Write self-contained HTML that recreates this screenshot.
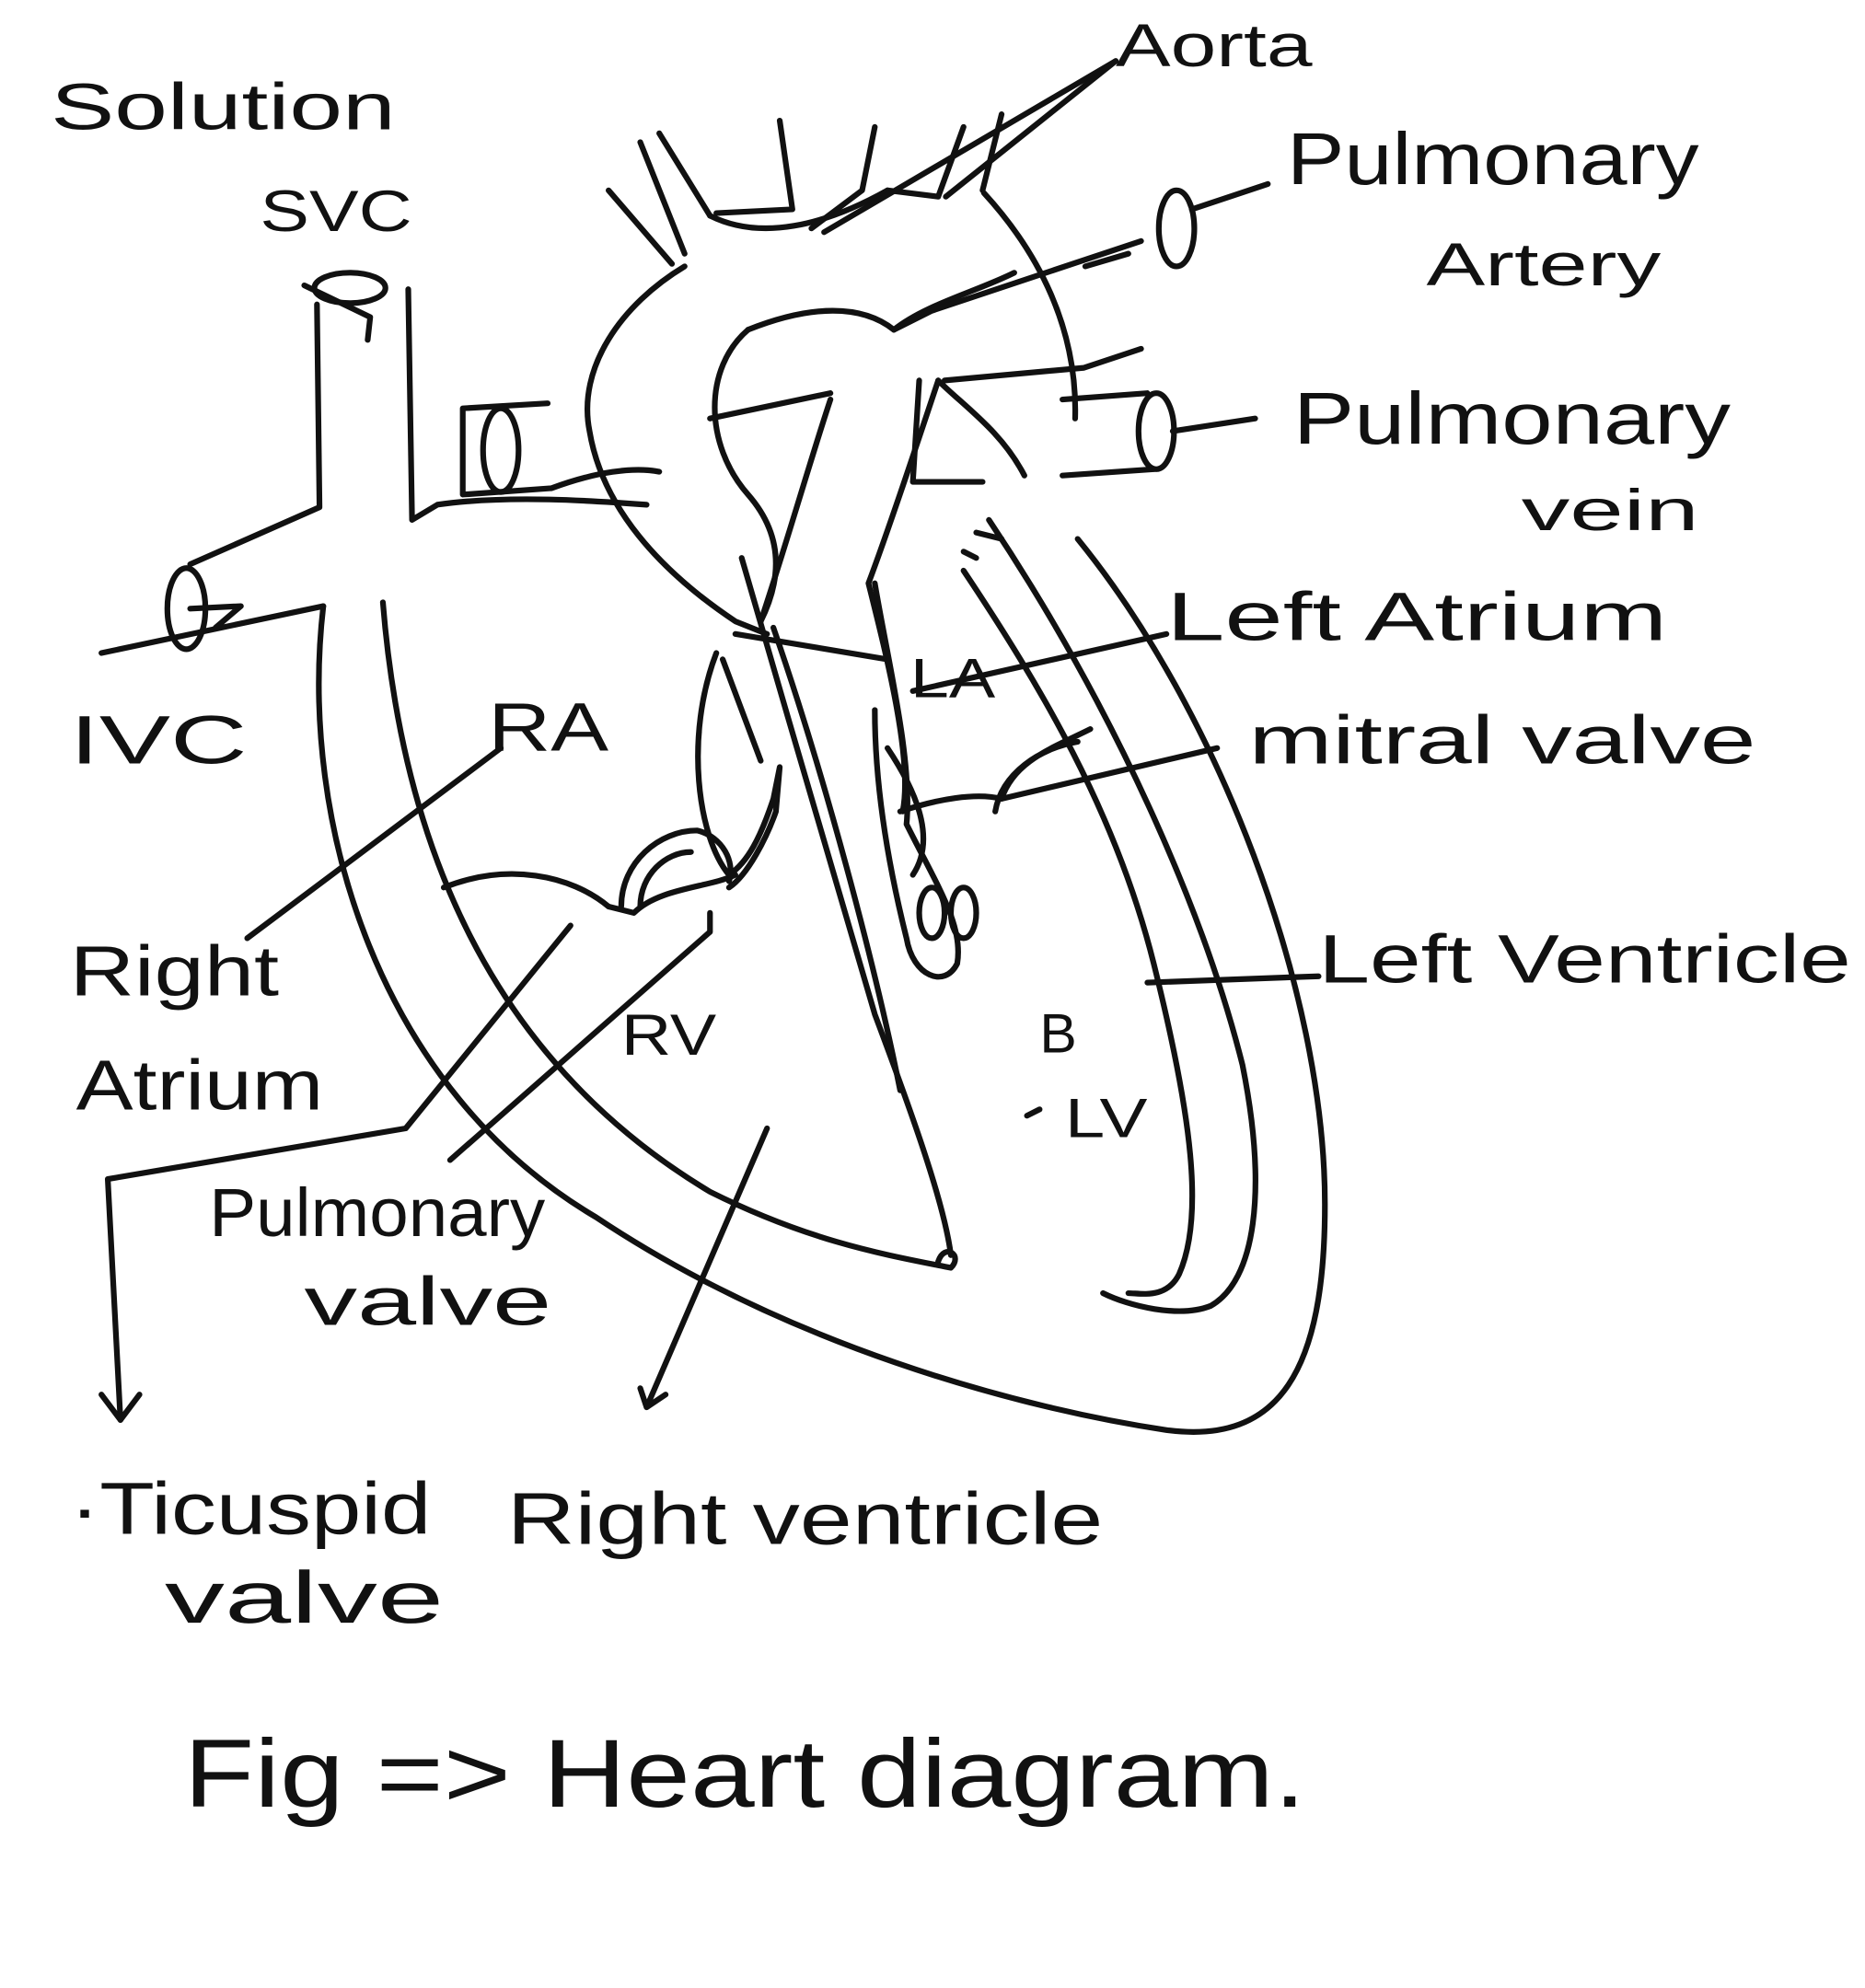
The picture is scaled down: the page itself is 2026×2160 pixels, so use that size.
<!DOCTYPE html>
<html><head><meta charset="utf-8"><style>
html,body{margin:0;padding:0;background:#fff;}
svg{display:block;}
text{font-family:"Liberation Sans",sans-serif;fill:#111;}
</style></head><body>
<svg width="2026" height="2160" viewBox="0 0 1471 1568" xmlns="http://www.w3.org/2000/svg">
<rect width="1471" height="1568" fill="#fff"/>
<g fill="none" stroke="#111" stroke-width="4.5" stroke-linecap="round" stroke-linejoin="round">
<!-- SVC -->
<ellipse cx="276" cy="227" rx="28" ry="12"/>
<path d="M250 240 L252 400 L150 445"/>
<path d="M322 228 L325 410 L345 398 C400 390 470 395 510 398"/>
<path d="M240 225 L292 250 L290 268"/>
<!-- IVC -->
<ellipse cx="147" cy="480" rx="15" ry="32"/>
<path d="M80 515 L255 478"/>
<path d="M150 480 L190 478 L170 495"/>
<ellipse cx="395" cy="355" rx="14" ry="33"/>
<path d="M365 322 L432 318 M365 322 L365 390 L435 385 M435 385 C470 372 500 368 520 372"/>
<!-- outer heart -->
<path d="M255 478 C235 650 300 860 470 960 C620 1060 800 1110 920 1128 C1010 1140 1045 1080 1045 950 C1045 780 960 560 850 425"/>
<path d="M302 475 C320 700 410 850 560 940 C640 980 700 990 750 1000 C760 990 745 980 740 995"/>
<!-- aorta arch -->
<path d="M540 210 C490 240 455 290 465 340 C475 400 520 450 580 490 L605 500"/>
<path d="M580 500 L700 520"/>
<path d="M530 208 L480 150 M540 200 L505 112 M560 170 L520 105 M565 168 L625 165 L615 95 M640 180 L680 150 L690 100 M700 150 L740 155 L760 100 M775 150 L790 90 M776 152 C820 200 850 260 848 330"/>
<path d="M560 170 C600 190 650 178 700 150"/>
<path d="M590 260 C555 290 555 350 590 390 C625 430 610 470 600 490"/>
<path d="M590 260 C640 240 680 240 705 260 C730 240 770 230 800 215"/>
<path d="M705 260 L735 245 L900 190"/>
<path d="M745 300 L855 290 L900 275"/>
<ellipse cx="928" cy="180" rx="14" ry="30"/>
<path d="M856 210 L890 200 M940 165 L1000 145"/>
<ellipse cx="912" cy="340" rx="14" ry="30"/>
<path d="M838 315 L905 310 M838 375 L910 370 M925 340 L990 330"/>
<!-- septum / ventricle -->
<path d="M600 490 C620 430 640 360 655 315"/>
<path d="M560 330 L655 310"/>
<path d="M585 440 C620 560 660 700 690 800 C720 880 745 950 750 990"/>
<path d="M610 495 C650 610 690 760 710 860"/>
<path d="M740 300 C720 360 700 420 685 460 C700 520 720 600 712 640"/>
<path d="M740 300 C760 320 790 340 808 375"/>
<path d="M725 300 L720 380 L775 380"/>
<path d="M760 435 L770 440 M770 420 L790 425"/>
<path d="M760 450 C820 540 880 640 910 760 C940 880 950 960 930 1005 C920 1025 900 1020 890 1020"/>
<path d="M780 410 C880 560 950 720 980 840 C1000 940 990 1010 955 1030 C930 1040 890 1030 870 1020"/>
<path d="M690 460 C700 520 720 600 715 650 C740 700 760 730 755 760 C745 780 720 770 715 740 C705 700 690 630 690 560"/>
<path d="M700 590 C720 620 740 660 720 690"/>
<ellipse cx="735" cy="720" rx="10" ry="20"/>
<ellipse cx="760" cy="720" rx="10" ry="20"/>
<path d="M785 640 C790 610 820 590 850 585 M790 630 C800 600 830 590 860 575"/>
<path d="M710 640 C740 630 770 625 790 630 L960 590"/>
<path d="M350 700 C400 680 450 690 480 715"/>
<path d="M490 715 C490 680 520 655 550 655 C570 660 580 680 575 695"/>
<path d="M505 715 C505 690 525 672 545 672"/>
<path d="M480 715 L500 720 C520 700 560 700 580 690"/>
<path d="M565 515 C540 580 550 660 575 690 C590 680 600 660 610 630 L615 605 L612 640 C605 660 590 690 575 700"/>
<path d="M570 520 L600 600"/>
<!-- leader lines -->
<path d="M650 183 L880 48"/>
<path d="M746 155 L880 48"/>
<path d="M720 545 L920 500"/>
<path d="M905 775 L1040 770"/>
<path d="M195 740 L395 590"/>
<path d="M355 915 L560 735 L560 720"/>
<path d="M450 730 L320 890 L85 930 L95 1120"/>
<path d="M80 1100 L95 1120 L110 1100"/>
<path d="M605 890 L510 1110 L505 1095 M510 1110 L525 1100"/>
<path d="M820 875 L810 880"/>
</g>
<g font-size="52" lengthAdjust="spacingAndGlyphs">
<text x="40" y="102" textLength="272" lengthAdjust="spacingAndGlyphs">Solution</text>
<text x="205" y="182" font-size="46" textLength="120" lengthAdjust="spacingAndGlyphs">SVC</text>
<text x="880" y="52" font-size="48" textLength="155" lengthAdjust="spacingAndGlyphs">Aorta</text>
<text x="1015" y="145" font-size="58" textLength="325" lengthAdjust="spacingAndGlyphs">Pulmonary</text>
<text x="1125" y="225" font-size="48" textLength="185" lengthAdjust="spacingAndGlyphs">Artery</text>
<text x="1020" y="350" font-size="58" textLength="345" lengthAdjust="spacingAndGlyphs">Pulmonary</text>
<text x="1200" y="418" font-size="46" textLength="140" lengthAdjust="spacingAndGlyphs">vein</text>
<text x="920" y="505" font-size="54" textLength="395" lengthAdjust="spacingAndGlyphs">Left Atrium</text>
<text x="985" y="602" font-size="54" textLength="400" lengthAdjust="spacingAndGlyphs">mitral valve</text>
<text x="1040" y="775" font-size="54" textLength="420" lengthAdjust="spacingAndGlyphs">Left Ventricle</text>
<text x="55" y="602" font-size="54" textLength="140" lengthAdjust="spacingAndGlyphs">IVC</text>
<text x="385" y="592" font-size="54" textLength="95" lengthAdjust="spacingAndGlyphs">RA</text>
<text x="718" y="550" font-size="44" textLength="67" lengthAdjust="spacingAndGlyphs">LA</text>
<text x="55" y="785" font-size="56" textLength="165" lengthAdjust="spacingAndGlyphs">Right</text>
<text x="60" y="875" font-size="56" textLength="195" lengthAdjust="spacingAndGlyphs">Atrium</text>
<text x="490" y="832" font-size="46" textLength="75" lengthAdjust="spacingAndGlyphs">RV</text>
<text x="820" y="830" font-size="44">B</text>
<text x="840" y="897" font-size="44" textLength="65" lengthAdjust="spacingAndGlyphs">LV</text>
<text x="165" y="975" font-size="54" textLength="265" lengthAdjust="spacingAndGlyphs">Pulmonary</text>
<text x="240" y="1045" font-size="54" textLength="195" lengthAdjust="spacingAndGlyphs">valve</text>
<text x="55" y="1210" font-size="58" textLength="285" lengthAdjust="spacingAndGlyphs">·Ticuspid</text>
<text x="130" y="1280" font-size="58" textLength="220" lengthAdjust="spacingAndGlyphs">valve</text>
<text x="400" y="1218" font-size="58" textLength="470" lengthAdjust="spacingAndGlyphs">Right ventricle</text>
<text x="145" y="1425" font-size="76" textLength="885" lengthAdjust="spacingAndGlyphs">Fig =&gt;  Heart diagram.</text>
</g>
</svg>
</body></html>
